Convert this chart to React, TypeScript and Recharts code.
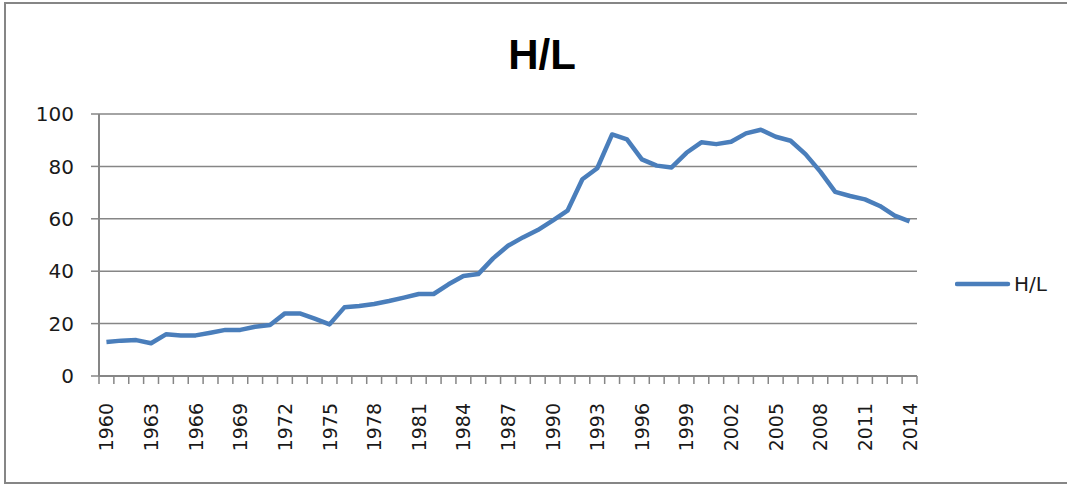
import { LineChart, Line, XAxis, YAxis, CartesianGrid, Legend } from 'recharts';

const years = [
  1960, 1961, 1962, 1963, 1964, 1965, 1966, 1967, 1968, 1969,
  1970, 1971, 1972, 1973, 1974, 1975, 1976, 1977, 1978, 1979,
  1980, 1981, 1982, 1983, 1984, 1985, 1986, 1987, 1988, 1989,
  1990, 1991, 1992, 1993, 1994, 1995, 1996, 1997, 1998, 1999,
  2000, 2001, 2002, 2003, 2004, 2005, 2006, 2007, 2008, 2009,
  2010, 2011, 2012, 2013, 2014,
];

const hlValues = [
  13.0, 13.5, 13.7, 12.5, 15.9, 15.5, 15.5, 16.5, 17.6, 17.6,
  18.8, 19.5, 23.9, 23.9, 21.9, 19.7, 26.2, 26.7, 27.5, 28.6,
  29.9, 31.3, 31.3, 35.0, 38.2, 38.9, 44.9, 49.7, 52.9, 55.7,
  59.3, 63.1, 75.1, 79.3, 92.2, 90.3, 82.7, 80.3, 79.6, 85.2,
  89.2, 88.5, 89.4, 92.6, 94.0, 91.3, 89.8, 84.7, 78.0, 70.3,
  68.7, 67.4, 64.9, 61.2, 59.0,
];

const labelYears = [
  1960, 1963, 1966, 1969, 1972, 1975, 1978, 1981, 1984, 1987,
  1990, 1993, 1996, 1999, 2002, 2005, 2008, 2011, 2014,
];

const yTicks = [0, 20, 40, 60, 80, 100];

const data = years.map((year, i) => ({ year, hl: hlValues[i] }));

// tick marks sit on the category boundaries, like Excel's "between tick marks"
const boundaries = [...years.map((y) => y - 0.5), years[years.length - 1] + 0.5];

const GRAY = '#868686';
const BLUE = '#4a7ebb';
const FONT = '"DejaVu Sans", sans-serif';
const BAND = (917 - 99) / years.length;

function YearTick(props: any) {
  const { x, y, payload } = props;
  const year = payload.value + 0.5;
  if (!labelYears.includes(year)) return null;
  const cx = x + BAND / 2;
  return (
    <text
      x={cx}
      y={y}
      transform={`rotate(-90, ${cx}, ${y})`}
      textAnchor="end"
      dominantBaseline="central"
      fontFamily={FONT}
      fontSize={19}
      fill="#1a1a1a"
    >
      {year}
    </text>
  );
}

function LegendBox() {
  return (
    <div style={{ display: 'flex', alignItems: 'center', fontFamily: FONT, fontSize: 20, color: '#1a1a1a' }}>
      <svg width={56} height={10}>
        <line x1={2} y1={5} x2={53} y2={5} stroke={BLUE} strokeWidth={4.5} strokeLinecap="round" />
      </svg>
      <span style={{ marginLeft: 3 }}>H/L</span>
    </div>
  );
}

export default function App() {
  return (
    <div style={{ position: 'absolute', left: 0, top: 0, width: 1067, height: 484, background: '#fff', overflow: 'hidden' }}>
      <div
        style={{
          position: 'absolute',
          left: 4,
          top: 2,
          width: 1100,
          height: 478,
          borderLeft: `2px solid ${GRAY}`,
          borderTop: `2px solid ${GRAY}`,
          borderBottom: `2px solid ${GRAY}`,
        }}
      />
      <div
        style={{
          position: 'absolute',
          left: 442,
          top: 34,
          width: 200,
          textAlign: 'center',
          fontFamily: '"Liberation Sans", sans-serif',
          fontWeight: 'bold',
          fontSize: 42,
          lineHeight: 1,
          color: '#000',
        }}
      >
        H/L
      </div>
      <div style={{ position: 'absolute', left: 0, top: 0 }}>
        <LineChart width={1067} height={484} data={data} margin={{ top: 114, right: 40, bottom: 28, left: 0 }}>
          <CartesianGrid horizontal vertical={false} stroke={GRAY} strokeWidth={1.5} />
          <XAxis
            dataKey="year"
            type="number"
            domain={[1959.5, 2014.5]}
            ticks={boundaries}
            interval={0}
            height={80}
            axisLine={{ stroke: GRAY, strokeWidth: 2 }}
            tickLine={{ stroke: GRAY, strokeWidth: 1.5 }}
            tickSize={8}
            tickMargin={19}
            tick={<YearTick />}
          />
          <YAxis
            domain={[0, 100]}
            ticks={yTicks}
            width={99}
            axisLine={{ stroke: GRAY, strokeWidth: 2 }}
            tickLine={{ stroke: GRAY, strokeWidth: 1.5 }}
            tickSize={8}
            tickMargin={17}
            tick={{ fontFamily: FONT, fontSize: 20, fill: '#1a1a1a' }}
          />
          <Legend
            layout="vertical"
            align="right"
            verticalAlign="top"
            wrapperStyle={{ left: 955, top: 272, width: 110 }}
            content={<LegendBox />}
          />
          <Line
            type="linear"
            dataKey="hl"
            name="H/L"
            stroke={BLUE}
            strokeWidth={4.5}
            strokeLinejoin="round"
            dot={false}
            activeDot={false}
            isAnimationActive={false}
          />
        </LineChart>
      </div>
    </div>
  );
}
